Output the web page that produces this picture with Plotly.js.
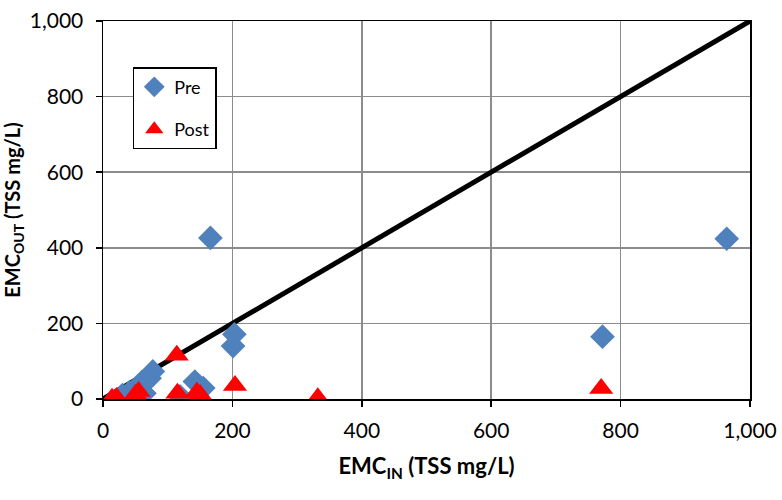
<!DOCTYPE html>
<html><head><meta charset="utf-8">
<script src="https://cdn.plot.ly/plotly-3.0.1.min.js"></script>
<style>html,body{margin:0;padding:0;background:#fff}#c{width:782px;height:500px}</style>
</head><body><div id="c"></div>
<script>
const preX = [166, 203, 201, 964, 772, 77, 72, 60, 142, 155, 119, 54, 41, 64, 30];
const preY = [426, 171, 140, 424, 165, 73, 55, 45, 46, 29, 7, 3, 18, 15, 10];
const postX = [114, 115, 150, 145, 50, 55, 21, 14, 204, 332, 770];
const postY = [116, 15, 12, 18, 12, 20, 4, 2, 36, 3, 28];
const lineX = [0, 1000];
const lineY = [0, 1000];
const tickVals = [0, 200, 400, 600, 800, 1000];
const tickText = ['0', '200', '400', '600', '800', '1,000'];

const FONT = 'Lato, "Open Sans", sans-serif';
const traces = [
  {x: lineX, y: lineY, mode: 'lines', line: {color: '#000', width: 5}, showlegend: false, hoverinfo: 'skip'},
  {x: preX, y: preY, mode: 'markers', name: 'Pre', legendgroup: 'a',
   marker: {symbol: 'diamond', size: 19, color: '#4F81BD'}},
  {x: postX, y: postY, mode: 'markers', name: 'Post', legendgroup: 'b',
   marker: {symbol: 'triangle-up', size: 21, color: '#FF0000'}}
];
const axisBase = {
  range: [0, 1000], tickvals: tickVals, ticktext: tickText,
  showgrid: true, gridcolor: '#8c8c8c', gridwidth: 1.5,
  zeroline: false, showline: true, linecolor: '#000', linewidth: 1.5, mirror: true,
  ticks: 'outside', ticklen: 6, tickcolor: '#000', tickwidth: 1.5,
  tickfont: {family: FONT, size: 21, color: '#000'}
};
const layout = {
  width: 782, height: 500,
  margin: {l: 103, r: 32, t: 21, b: 101},
  paper_bgcolor: '#fff', plot_bgcolor: '#fff',
  font: {family: FONT, color: '#000'},
  xaxis: Object.assign({}, axisBase, {
    ticklabelstandoff: 6,
    title: {text: 'EMC<sub>IN</sub> (TSS mg/L)', font: {family: FONT, size: 22, color: '#000', weight: 'bold'}, standoff: 18}
  }),
  yaxis: Object.assign({}, axisBase, {
    ticklabelstandoff: 8,
    title: {text: 'EMC<sub>OUT</sub> (TSS mg/L)', font: {family: FONT, size: 20, color: '#000', weight: 'bold'}, standoff: 6}
  }),
  legend: {
    x: 0.046, y: 0.878, xanchor: 'left', yanchor: 'top',
    bordercolor: '#000', borderwidth: 1.5, bgcolor: '#fff',
    font: {family: FONT, size: 18, color: '#000'},
    traceorder: 'grouped', tracegroupgap: 16
  },
  showlegend: true
};
Plotly.newPlot('c', traces, layout, {displayModeBar: false, staticPlot: true});
</script>
</body></html>
